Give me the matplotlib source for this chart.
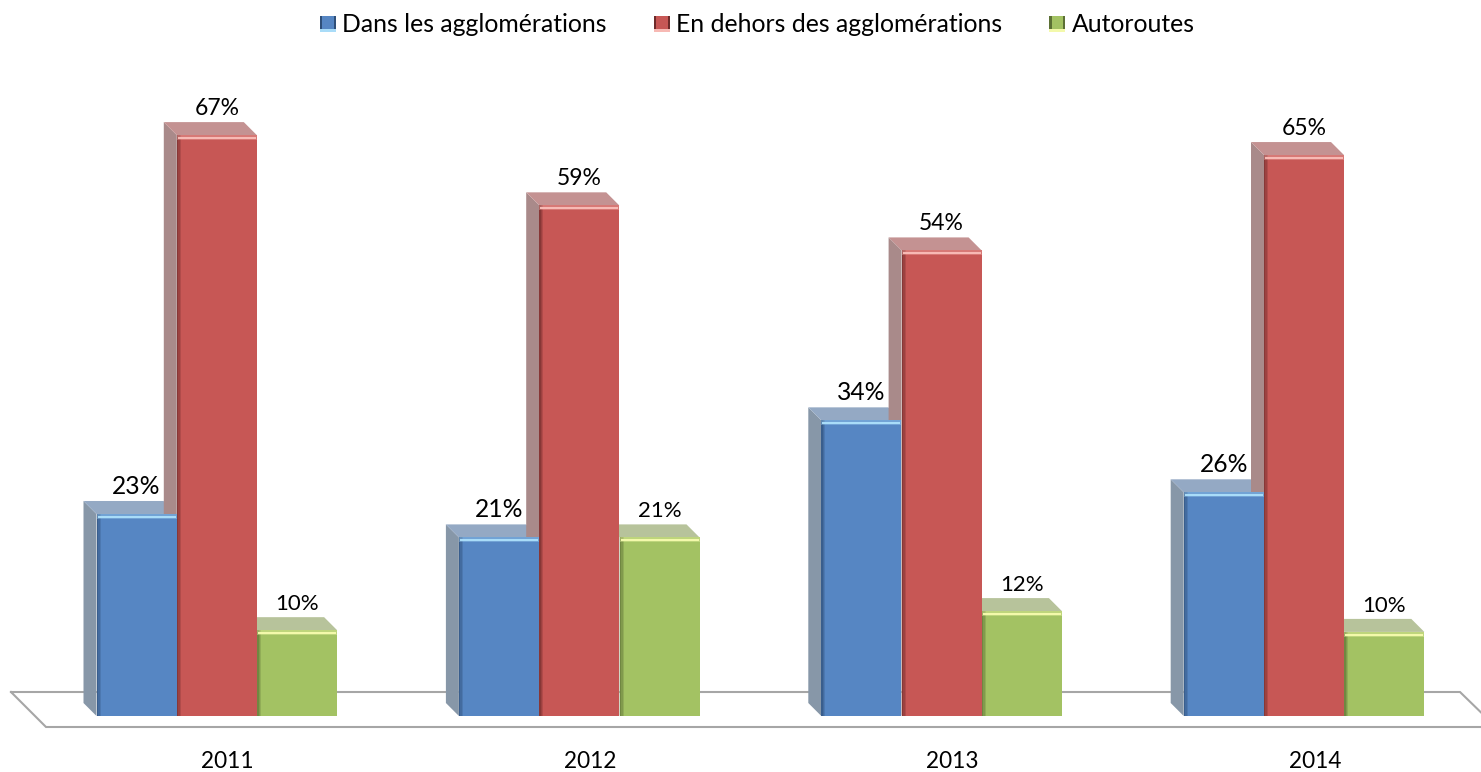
import matplotlib
matplotlib.use("Agg")
import matplotlib.pyplot as plt
from matplotlib.patches import Polygon, Rectangle, Patch

plt.rcParams['font.family'] = ['Lato', 'DejaVu Sans']

years = ["2011", "2012", "2013", "2014"]
series_names = ["Dans les agglomérations", "En dehors des agglomérations", "Autoroutes"]
dans = [23.3, 20.6, 34.1, 25.8]
dehors = [67.0, 58.9, 53.7, 64.7]
autoroutes = [9.9, 20.6, 12.1, 9.7]

# front, top, side, dark edge, highlight
blue = ["#5686c3", "#94a9c4", "#8797a8", "#2f4f78", "#a9dcf8"]
red = ["#c75755", "#c49292", "#a98a8a", "#6e2b2a", "#f7b9b4"]
green = ["#a3c263", "#b7c39b", "#a3b28a", "#5c7035", "#f3f9ab"]

W, H = 1481, 772
px_x = 362.4       # pixels for one category
px_y = 8.67        # pixels for one percent
x0, y0 = 216.8, 716  # pixel position of 2011 centre / baseline

bar_w = 80 / px_x
gap = 0.3 / px_x
dep_x = 13 / px_x
dep_y = 13 / px_y


def draw_bar(ax, x, v, col, label_size):
    left = x - bar_w / 2
    right = x + bar_w / 2
    # side and top faces
    ax.add_patch(Polygon([(left, 0), (left - dep_x, dep_y), (left - dep_x, v + dep_y), (left, v)],
                         fc=col[2], ec="none", zorder=3))
    ax.add_patch(Polygon([(left, v), (left - dep_x, v + dep_y), (right - dep_x, v + dep_y), (right, v)],
                         fc=col[1], ec="none", zorder=3))
    ax.bar(x, v, bar_w, color=col[0], zorder=4)
    # soft bevel on the front face
    for w, a in [(4, 0.25), (3, 0.3), (1.5, 0.45)]:
        ax.add_patch(Rectangle((left, 0), w / px_x, v, fc=col[3], ec="none", alpha=a, lw=0, zorder=5))
    ax.add_patch(Rectangle((left, v - 5 / px_y), bar_w, 5 / px_y, fc=col[4], ec="none", alpha=0.35, lw=0, zorder=5))
    ax.add_patch(Rectangle((left + 1 / px_x, v - 4 / px_y), bar_w - 2 / px_x, 2.4 / px_y, fc=col[4], ec="none", lw=0, zorder=5))
    ax.text(x, v + 20 / px_y, f"{v:.0f}%", ha="center", va="baseline",
            fontsize=label_size, color="black", zorder=6)


class BevelHandler:
    def legend_artist(self, legend, orig_handle, fontsize, handlebox):
        x, y = handlebox.xdescent, handlebox.ydescent
        w, h = handlebox.width, handlebox.height
        col = orig_handle.col
        tr = handlebox.get_transform()
        for r, fc in [((x, y, w, h), col[0]),
                      ((x, y, w * 0.14, h), col[3]),
                      ((x + w * 0.86, y, w * 0.14, h), col[3]),
                      ((x, y, w, h * 0.2), col[4])]:
            handlebox.add_artist(Rectangle(r[:2], r[2], r[3], fc=fc, ec="none", lw=0, transform=tr))
        return handlebox


fig = plt.figure(figsize=(W / 100, H / 100), dpi=100)
ax = fig.add_axes([0, 0, 1, 1])
ax.set_xlim(-x0 / px_x, (W - x0) / px_x)
ax.set_ylim(-(H - y0) / px_y, y0 / px_y)
ax.axis("off")

# floor of the chart
floor_px_x = [11, 1460, 1496, 46, 11]
floor_px_y = [692, 692, 727, 727, 692]
ax.plot([(p - x0) / px_x for p in floor_px_x], [(y0 - p) / px_y for p in floor_px_y],
        color="#a6a6a6", lw=1.5, zorder=1, solid_joinstyle="miter")

for i, year in enumerate(years):
    draw_bar(ax, i - bar_w - gap, dans[i], blue, 17.7)
    draw_bar(ax, i, dehors[i], red, 16.5)
    draw_bar(ax, i + bar_w + gap, autoroutes[i], green, 16)
    ax.text(i + 11 / px_x, -(768 - y0) / px_y, year, ha="center", va="baseline", fontsize=16.3, color="black")

handles = []
for c in (blue, red, green):
    h = Patch()
    h.col = c
    handles.append(h)
fig.legend(handles, series_names, loc="upper center", bbox_to_anchor=(0.5114, 1.012), ncol=3,
           frameon=False, fontsize=17.8, handlelength=0.65, handleheight=0.65,
           handletextpad=0.25, columnspacing=1.9, handler_map={Patch: BevelHandler()})

fig.savefig("out.png", dpi=100)
